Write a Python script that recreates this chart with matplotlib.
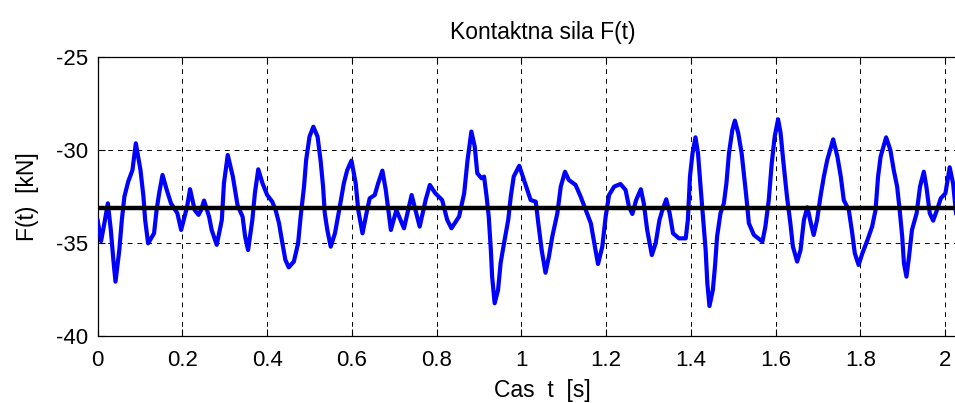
import numpy as np
import matplotlib
matplotlib.use('Agg')
import matplotlib.pyplot as plt

# time [s] and contact force [kN]
t = [0.000, 0.008, 0.015, 0.024, 0.031, 0.037, 0.042, 0.051, 0.057, 0.063,
     0.072, 0.082, 0.090, 0.101, 0.108, 0.112, 0.119, 0.133, 0.139, 0.145,
     0.153, 0.163, 0.173, 0.188, 0.197, 0.211, 0.218, 0.229, 0.238, 0.244,
     0.251, 0.263, 0.269, 0.281, 0.293, 0.298, 0.307, 0.319, 0.330, 0.342,
     0.348, 0.355, 0.365, 0.371, 0.379, 0.389, 0.400, 0.412, 0.420, 0.428,
     0.436, 0.443, 0.451, 0.463, 0.473, 0.479, 0.487, 0.492, 0.500, 0.509,
     0.519, 0.526, 0.532, 0.536, 0.542, 0.550, 0.560, 0.570, 0.581, 0.589,
     0.599, 0.609, 0.615, 0.625, 0.636, 0.642, 0.654, 0.662, 0.672, 0.680,
     0.686, 0.692, 0.705, 0.723, 0.741, 0.760, 0.774, 0.784, 0.797, 0.813,
     0.825, 0.835, 0.853, 0.865, 0.873, 0.882, 0.890, 0.896, 0.906, 0.912,
     0.918, 0.923, 0.928, 0.931, 0.937, 0.945, 0.951, 0.959, 0.969, 0.975,
     0.982, 0.995, 1.014, 1.022, 1.034, 1.040, 1.048, 1.057, 1.065, 1.073,
     1.085, 1.093, 1.103, 1.112, 1.128, 1.140, 1.152, 1.164, 1.175, 1.181,
     1.191, 1.199, 1.207, 1.219, 1.234, 1.246, 1.254, 1.262, 1.271, 1.282,
     1.289, 1.297, 1.308, 1.317, 1.326, 1.332, 1.342, 1.350, 1.358, 1.372,
     1.388, 1.393, 1.398, 1.404, 1.411, 1.417, 1.423, 1.430, 1.435, 1.439,
     1.444, 1.452, 1.457, 1.462, 1.470, 1.478, 1.484, 1.490, 1.498, 1.504,
     1.512, 1.520, 1.525, 1.531, 1.537, 1.549, 1.569, 1.576, 1.584, 1.591,
     1.598, 1.606, 1.612, 1.618, 1.627, 1.635, 1.641, 1.651, 1.659, 1.667,
     1.675, 1.683, 1.690, 1.698, 1.706, 1.714, 1.722, 1.736, 1.746, 1.754,
     1.761, 1.773, 1.781, 1.787, 1.796, 1.805, 1.817, 1.828, 1.836, 1.842,
     1.848, 1.861, 1.871, 1.879, 1.887, 1.893, 1.899, 1.903, 1.909, 1.915,
     1.922, 1.933, 1.941, 1.950, 1.956, 1.964, 1.972, 1.981, 1.990, 2.001,
     2.011, 2.019, 2.026]
F = [-33.80, -34.90, -34.03, -32.87, -34.30, -35.91, -37.08, -35.38, -33.76, -32.51,
     -31.70, -31.08, -29.64, -31.08, -32.51, -33.76, -35.02, -34.48, -33.23, -32.33,
     -31.34, -32.15, -32.87, -33.40, -34.30, -33.05, -32.11, -33.23, -33.49, -33.23,
     -32.72, -33.59, -34.30, -35.10, -33.76, -31.79, -30.27, -31.43, -32.96, -33.59,
     -34.66, -35.38, -33.76, -32.33, -31.04, -31.79, -32.42, -32.78, -33.23, -33.94,
     -35.02, -35.91, -36.31, -36.00, -35.02, -33.59, -31.97, -30.54, -29.28, -28.75,
     -29.28, -30.54, -31.97, -33.40, -34.30, -35.20, -34.48, -33.23, -31.79, -31.08,
     -30.57, -31.79, -33.23, -34.48, -33.23, -32.60, -32.42, -31.79, -31.11, -32.15,
     -33.23, -34.30, -33.23, -34.21, -32.42, -34.12, -32.69, -31.88, -32.33, -32.69,
     -33.76, -34.21, -33.58, -32.33, -30.54, -29.01, -29.82, -31.25, -31.52, -31.43,
     -32.51, -33.58, -35.38, -36.81, -38.24, -37.53, -36.09, -35.02, -33.76, -32.51,
     -31.43, -30.85, -32.15, -32.69, -32.78, -33.94, -35.38, -36.60, -35.74, -34.66,
     -33.40, -31.97, -31.17, -31.61, -31.88, -32.51, -33.23, -33.94, -35.38, -36.13,
     -35.20, -33.59, -32.42, -31.97, -31.83, -32.15, -33.05, -33.44, -32.69, -32.11,
     -32.87, -34.30, -35.65, -35.02, -33.76, -33.30, -32.65, -33.40, -34.48, -34.75,
     -34.75, -33.76, -31.43, -30.18, -29.32, -30.18, -31.97, -33.94, -35.38, -37.17,
     -38.39, -37.53, -36.27, -34.66, -33.40, -32.87, -31.80, -30.18, -28.92, -28.42,
     -29.10, -30.18, -31.25, -32.51, -33.94, -34.57, -34.93, -34.12, -32.69, -30.72,
     -29.28, -28.35, -29.10, -30.54, -32.51, -33.94, -35.20, -36.00, -35.38, -33.76,
     -33.08, -33.90, -34.57, -33.76, -32.51, -31.43, -30.54, -29.43, -30.36, -31.43,
     -32.69, -33.23, -34.48, -35.55, -36.18, -35.55, -34.84, -34.12, -33.23, -31.43,
     -30.36, -29.32, -30.00, -31.08, -31.97, -33.23, -34.66, -36.09, -36.81, -35.74,
     -34.30, -33.40, -31.97, -31.17, -31.97, -33.40, -33.80, -33.23, -32.60, -32.33,
     -30.93, -31.79, -33.40]
F_mean = -33.13

x_ticks = [0, 0.2, 0.4, 0.6, 0.8, 1, 1.2, 1.4, 1.6, 1.8, 2]
x_labels = ['0', '0.2', '0.4', '0.6', '0.8', '1', '1.2', '1.4', '1.6', '1.8', '2']
y_ticks = [-40, -35, -30, -25]

plt.rcParams['font.family'] = ['Liberation Sans', 'DejaVu Sans']
plt.rcParams['axes.unicode_minus'] = False

fig = plt.figure(figsize=(9.55, 4.03), dpi=100)
# the original axes run past the right border of the picture (t up to 2.1)
ax = fig.add_axes([0.1023, 0.1663, 0.9316, 0.6923])

ax.plot(t, F, color='#0000ff', lw=3.0, zorder=3)
ax.axhline(F_mean, color='black', lw=3.2, zorder=4)

ax.set_xlim(0, 2.1)
ax.set_ylim(-40, -25)
ax.set_xticks(x_ticks)
ax.set_xticklabels(x_labels)
ax.set_yticks(y_ticks)
ax.grid(True, color='black', linestyle=(0, (5, 5)), linewidth=0.7)
ax.tick_params(direction='in', top=True, right=True, length=5, width=0.8,
               labelsize=16)
ax.tick_params(axis='x', pad=10)
ax.tick_params(axis='y', pad=7)
for s in ax.spines.values():
    s.set_linewidth(0.9)

ax.set_title('Kontaktna sila F(t)', fontsize=16.5, pad=13)
ax.set_xlabel('Cas  t  [s]', fontsize=16.5, labelpad=6)
ax.set_ylabel('F(t)  [kN]', fontsize=16.5, labelpad=12)

fig.savefig('out.png', dpi=100)
